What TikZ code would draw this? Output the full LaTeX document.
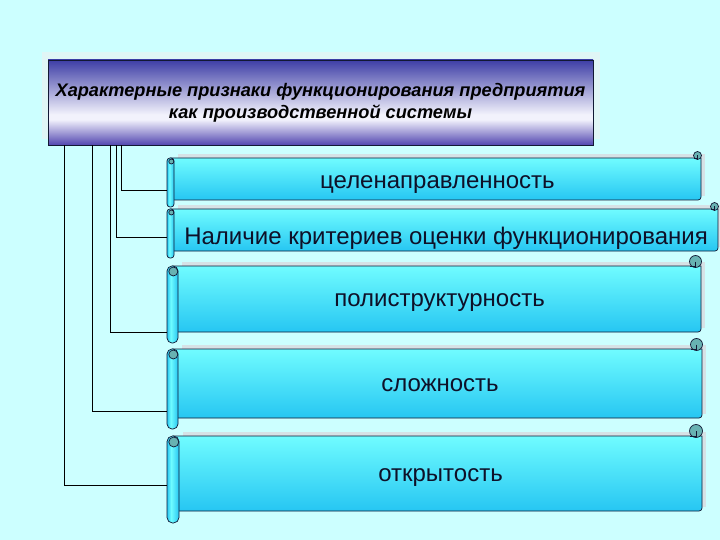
\documentclass[tikz,border=0pt]{standalone}
\usepackage{fontspec}
\setmainfont{Liberation Sans}
\usetikzlibrary{calc}
\definecolor{bg}{RGB}{204,255,255}
\definecolor{hdrblue}{RGB}{62,62,166}
\definecolor{hdrpurp}{RGB}{82,70,176}
\definecolor{hdrwhite}{RGB}{242,242,252}
\definecolor{cyantop}{RGB}{112,252,255}
\definecolor{cyanbot}{RGB}{38,198,242}
\definecolor{curlc}{RGB}{104,178,178}
\definecolor{edge}{RGB}{18,24,52}
\definecolor{shadowc}{RGB}{214,226,230}
\definecolor{hshadow}{RGB}{224,246,246}
\definecolor{txt}{RGB}{14,16,40}
\pgfdeclareverticalshading{hdrshade}{100bp}{color(0bp)=(hdrpurp); color(25bp)=(hdrpurp); color(40bp)=(hdrwhite); color(43bp)=(hdrwhite); color(75bp)=(hdrblue); color(100bp)=(hdrblue)}
\pgfdeclareverticalshading{bodyshade}{100bp}{color(0bp)=(cyanbot); color(25bp)=(cyanbot); color(75bp)=(cyantop); color(100bp)=(cyantop)}
\pgfdeclarehorizontalshading{rollshade}{100bp}{color(0bp)=(cyanbot); color(25bp)=(cyanbot); color(42bp)=(cyantop); color(75bp)=(cyanbot); color(100bp)=(cyanbot)}
\tikzset{
  hdr/.style={rectangle, draw=edge, line width=0.8pt, shading=hdrshade,
    minimum width=545pt, minimum height=85pt, inner sep=0pt,
    align=center, font=\fontsize{18.2}{22}\selectfont\bfseries\itshape, text=black},
  scrolltext/.style={anchor=base, inner sep=0pt, font=\fontsize{24}{28}\selectfont, text=txt},
  conn/.style={draw=black, line width=0.8pt},
  outline/.style={draw=edge, line width=0.7pt}
}
% #1 name, #2 L, #3 T, #4 R, #5 B, #6 d, #7 text baseline y, #8 attach y, #9 text
\newcommand\scrollbox[9]{%
  \fill[shadowc] (#2+#6+4,#3+#6-4) rectangle (#4+4,#5-#6-4);
  \shade[shading=bodyshade, outline] (#2+#6/2,#3+#6) -- (#4,#3+#6)
     {[rounded corners=3pt] -- (#4,#5-#6)} -- (#2+#6/2,#5-#6) -- cycle;
  \filldraw[fill=curlc, outline] (#4-#6/2,#3+#6/2+1) circle[radius=#6/2+0.5];
  \draw[edge, line width=0.5pt] (#4-#6/2,#3+#6/2+1) -- (#4-#6/2,#3+#6) -- (#4-#6,#3+#6);
  \shade[shading=rollshade, outline, rounded corners=#6/2-0.5] (#2,#3+#6) rectangle (#2+#6,#5);
  \filldraw[fill=curlc, outline] (#2+#6/2+0.8,#3+#6+#6/2) circle[radius=#6/2-1];
  \node[scrolltext] (#1) at ({(#2+#6+#4)/2},#7) {#9};
  \coordinate (#1in) at (#2,#8);
}
\begin{document}
\begin{tikzpicture}[x=1pt,y=-1pt]
\useasboundingbox (0,0) rectangle (720,540);
\fill[bg] (0,0) rectangle (720,540);
% header
\fill[hshadow] (42,52) rectangle (600,139);
\node[hdr] (hdr) at (320.5,102.5) {Характерные признаки функционирования предприятия\\как производственной системы};
% scrolls
\scrollbox{s1}{167}{151}{701}{207}{7}{189}{190}{целенаправленность}
\scrollbox{s2}{167}{202}{718}{258}{7}{244}{237}{Наличие критериев оценки функционирования}
\scrollbox{s3}{167}{255}{701}{343}{11}{306}{332}{полиструктурность}
\scrollbox{s4}{167}{338}{702}{429}{11}{391}{411}{сложность}
\scrollbox{s5}{167}{424}{702}{523}{12}{481}{485}{открытость}
% connectors
\draw[conn] ([xshift=74pt]hdr.south west) |- (s1in);
\draw[conn] ([xshift=69pt]hdr.south west) |- (s2in);
\draw[conn] ([xshift=63pt]hdr.south west) |- (s3in);
\draw[conn] ([xshift=45pt]hdr.south west) |- (s4in);
\draw[conn] ([xshift=17pt]hdr.south west) |- (s5in);
\end{tikzpicture}
\end{document}
